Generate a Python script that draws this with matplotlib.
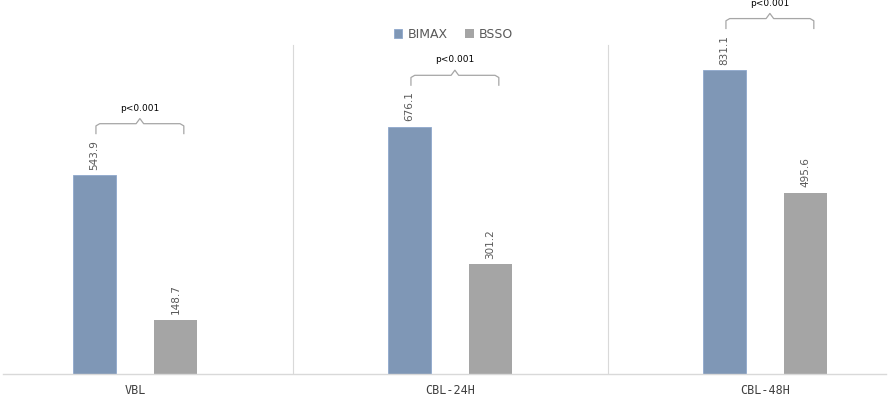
import numpy as np
import matplotlib.pyplot as plt

# data
groups = ["VBL", "CBL-24H", "CBL-48H"]
bimax = [543.9, 676.1, 831.1]
bsso = [148.7, 301.2, 495.6]
p_labels = ["p<0.001", "p<0.001", "p<0.001"]

c_bimax = "#7f97b6"
c_bsso = "#a5a5a5"
grid_c = "#d9d9d9"

fig = plt.figure(figsize=(8.89, 3.97), dpi=100)
ax = fig.add_axes([0, 23 / 397, 1, 374 / 397])

x = np.arange(len(groups))
w = 0.137
off = 0.129
ax.bar(x - off, bimax, w, color=c_bimax, edgecolor="#8fa8cc", linewidth=0.6, label="BIMAX", zorder=3)
ax.bar(x + off, bsso, w, color=c_bsso, label="BSSO", zorder=3)

ax.set_xlim(-135 / 315, 754 / 315)
ax.set_ylim(0, 374 / 0.366)

# value labels
for i in range(len(groups)):
    ax.text(x[i] - off, bimax[i] + 14, f"{bimax[i]:.1f}", rotation=90, ha="center", va="bottom",
            fontsize=7.5, color="#595959")
    ax.text(x[i] + off, bsso[i] + 14, f"{bsso[i]:.1f}", rotation=90, ha="center", va="bottom",
            fontsize=7.5, color="#595959")

# separators and baseline
for s in [0.5, 1.5]:
    ax.plot([s, s], [0, 899], color=grid_c, lw=0.8, zorder=1)
ax.plot([-132 / 315, 751 / 315], [0, 0], color=grid_c, lw=1.0, zorder=4, clip_on=False)

# brackets
for i in range(len(groups)):
    x0 = x[i] - off + 0.005
    x1 = x[i] + off + 0.026
    xm = (x0 + x1) / 2
    yh = bimax[i] + 140
    d = 0.012
    ys = [yh - 27, yh - 6, yh, yh, yh + 14, yh, yh, yh - 6, yh - 27]
    xs = [x0, x0, x0 + d, xm - d, xm, xm + d, x1 - d, x1, x1]
    ax.plot(xs, ys, color="#a6a6a6", lw=0.9, zorder=3, clip_on=False)
    ax.text(xm, yh + 30, p_labels[i], ha="center", va="bottom", fontsize=6.5, color="black")

ax.set_xticks(x)
ax.set_xticklabels(groups, fontsize=8.5, color="#404040", fontfamily="DejaVu Sans Mono")
ax.tick_params(axis="x", length=0, pad=7.5)
ax.set_yticks([])
for sp in ax.spines.values():
    sp.set_visible(False)

leg = ax.legend(loc="upper center", bbox_to_anchor=(0.51, 0.955), ncol=2, frameon=False,
                fontsize=9, handlelength=0.7, handleheight=0.7, handletextpad=0.4, columnspacing=1.4)
for t in leg.get_texts():
    t.set_color("#595959")

fig.savefig("out.png", dpi=100)
